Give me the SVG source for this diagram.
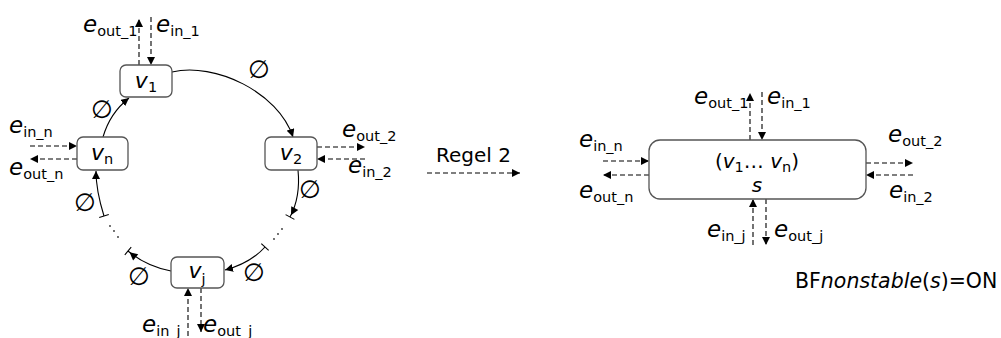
<svg xmlns="http://www.w3.org/2000/svg" width="1001" height="338" viewBox="0 0 1001 338">
<defs>
<style>
text{font-family:"DejaVu Sans","Verdana",sans-serif;fill:#000;}
.t{font-size:20px;}
.i{font-style:italic;}
.e{font-style:italic;font-size:23px;}
.v{font-style:italic;font-size:22px;}
.s{font-size:14.5px;font-style:normal;}
.box{fill:#fff;stroke:#555;stroke-width:1.3;}
.d{fill:none;stroke:#000;stroke-width:1.1;stroke-dasharray:5,3;}
.a{fill:none;stroke:#000;stroke-width:1.1;}
.phi{font-size:25px;font-style:italic;text-anchor:middle;}
.dot{fill:#333;}
</style>
<marker id="ah" markerUnits="userSpaceOnUse" viewBox="0 0 10 10" refX="10" refY="5" markerWidth="8" markerHeight="8" orient="auto">
<path d="M0,0 L10,5 L0,10 z" fill="#000"/>
</marker>
<marker id="ahb" markerUnits="userSpaceOnUse" viewBox="0 0 12 12" refX="11" refY="6" markerWidth="12" markerHeight="12" orient="auto">
<path d="M1,2 L9,6 L1,10 z" fill="#000"/>
<path d="M11,1 L11,11" stroke="#000" stroke-width="1.1"/>
</marker>
<marker id="bar" markerUnits="userSpaceOnUse" viewBox="0 0 12 12" refX="6" refY="6" markerWidth="12" markerHeight="12" orient="auto">
<path d="M6,1 L6,11" stroke="#000" stroke-width="1.1"/>
</marker>
</defs>

<g id="connectors">
<path class="a" d="M172,72 C215,62 278,92 293,137" marker-end="url(#ah)"/>
<path class="a" d="M103,137 Q110,113 129,98" marker-end="url(#ah)"/>
<path class="a" d="M298,170 C300,190 297,204 290,217" marker-end="url(#ahb)"/>
<path class="a" d="M265,247 C255,258 240,266 225,270" marker-start="url(#bar)" marker-end="url(#ah)"/>
<path class="a" d="M171,271 C155,268 140,261 128,251" marker-end="url(#ahb)"/>
<path class="a" d="M104,216 C99,200 96,186 96,171" marker-start="url(#bar)" marker-end="url(#ah)"/>
<path class="d" d="M139,65 L139,19" marker-end="url(#ah)"/>
<path class="d" d="M151,17 L151,65" marker-end="url(#ah)"/>
<path class="d" d="M30,146 L77,146" marker-end="url(#ah)"/>
<path class="d" d="M77,159 L30,159" marker-end="url(#ah)"/>
<path class="d" d="M317,147 L365,147" marker-end="url(#ah)"/>
<path class="d" d="M365,159 L317,159" marker-end="url(#ah)"/>
<path class="d" d="M188,336 L188,288" marker-end="url(#ah)"/>
<path class="d" d="M201,288 L201,332" marker-end="url(#ah)"/>
<path class="d" d="M427,173 L520,173" marker-end="url(#ah)"/>
<path class="d" d="M750,140 L750,93" marker-end="url(#ah)"/>
<path class="d" d="M762,92 L762,140" marker-end="url(#ah)"/>
<path class="d" d="M603,161 L649,161" marker-end="url(#ah)"/>
<path class="d" d="M649,175 L603,175" marker-end="url(#ah)"/>
<path class="d" d="M866,163 L913,163" marker-end="url(#ah)"/>
<path class="d" d="M913,175 L866,175" marker-end="url(#ah)"/>
<path class="d" d="M753,245 L753,199" marker-end="url(#ah)"/>
<path class="d" d="M766,199 L766,245" marker-end="url(#ah)"/>
</g>

<g id="ring-marks">
<text class="phi" x="259" y="78">∅</text>
<text class="phi" x="102" y="118">∅</text>
<text class="phi" x="310" y="198">∅</text>
<text class="phi" x="254" y="281">∅</text>
<text class="phi" x="139" y="285">∅</text>
<text class="phi" x="85" y="211">∅</text>
<circle class="dot" cx="282" cy="229" r="0.9"/>
<circle class="dot" cx="278" cy="234" r="0.9"/>
<circle class="dot" cx="274" cy="239" r="0.9"/>
<circle class="dot" cx="110" cy="226" r="0.9"/>
<circle class="dot" cx="114" cy="231" r="0.9"/>
<circle class="dot" cx="118" cy="237" r="0.9"/>
</g>

<g id="v1">
<rect class="box" x="120" y="65" width="52" height="32" rx="6"/>
<text class="t" x="146" y="88" text-anchor="middle"><tspan class="v">v</tspan><tspan class="s" dy="4">1</tspan></text>
</g>
<g id="vn">
<rect class="box" x="77" y="137" width="51" height="33" rx="6"/>
<text class="t" x="102" y="160" text-anchor="middle"><tspan class="v">v</tspan><tspan class="s" dy="4">n</tspan></text>
</g>
<g id="v2">
<rect class="box" x="265" y="137" width="52" height="33" rx="6"/>
<text class="t" x="291" y="160" text-anchor="middle"><tspan class="v">v</tspan><tspan class="s" dy="4">2</tspan></text>
</g>
<g id="vj">
<rect class="box" x="171" y="257" width="53" height="31" rx="6"/>
<text class="t" x="197" y="278" text-anchor="middle"><tspan class="v">v</tspan><tspan class="s" dy="6">j</tspan></text>
</g>

<g id="left-labels">
<text class="t" x="83" y="32"><tspan class="e">e</tspan><tspan class="s" dy="4">out_1</tspan></text>
<text class="t" x="156" y="32"><tspan class="e">e</tspan><tspan class="s" dy="4">in_1</tspan></text>
<text class="t" x="9" y="133"><tspan class="e">e</tspan><tspan class="s" dy="4">in_n</tspan></text>
<text class="t" x="9" y="175"><tspan class="e">e</tspan><tspan class="s" dy="4">out_n</tspan></text>
<text class="t" x="342" y="137"><tspan class="e">e</tspan><tspan class="s" dy="4">out_2</tspan></text>
<text class="t" x="348" y="173"><tspan class="e">e</tspan><tspan class="s" dy="4">in_2</tspan></text>
<text class="t" x="142" y="332"><tspan class="e">e</tspan><tspan class="s" dy="4">in_j</tspan></text>
<text class="t" x="203" y="332"><tspan class="e">e</tspan><tspan class="s" dy="4">out_j</tspan></text>
</g>

<g id="rule">
<text class="t" x="436" y="162">Regel 2</text>
</g>

<g id="s">
<rect class="box" x="649" y="140" width="217" height="59" rx="11"/>
<text class="t" x="757" y="168" text-anchor="middle">(<tspan class="i">v</tspan><tspan class="s" dy="4">1</tspan><tspan dy="-4">… </tspan><tspan class="i">v</tspan><tspan class="s" dy="4">n</tspan><tspan dy="-4">)</tspan></text>
<text class="t i" x="757" y="192" text-anchor="middle">s</text>
</g>

<g id="right-labels">
<text class="t" x="694" y="104"><tspan class="e">e</tspan><tspan class="s" dy="4">out_1</tspan></text>
<text class="t" x="767" y="104"><tspan class="e">e</tspan><tspan class="s" dy="4">in_1</tspan></text>
<text class="t" x="579" y="147"><tspan class="e">e</tspan><tspan class="s" dy="4">in_n</tspan></text>
<text class="t" x="579" y="198"><tspan class="e">e</tspan><tspan class="s" dy="4">out_n</tspan></text>
<text class="t" x="888" y="142"><tspan class="e">e</tspan><tspan class="s" dy="4">out_2</tspan></text>
<text class="t" x="889" y="198"><tspan class="e">e</tspan><tspan class="s" dy="4">in_2</tspan></text>
<text class="t" x="707" y="237"><tspan class="e">e</tspan><tspan class="s" dy="4">in_j</tspan></text>
<text class="t" x="774" y="237"><tspan class="e">e</tspan><tspan class="s" dy="4">out_j</tspan></text>
</g>

<g id="status">
<text class="t" x="795" y="288" style="font-size:20.5px">BF<tspan class="i">nonstable</tspan>(<tspan class="i">s</tspan>)=ON</text>
</g>
</svg>
